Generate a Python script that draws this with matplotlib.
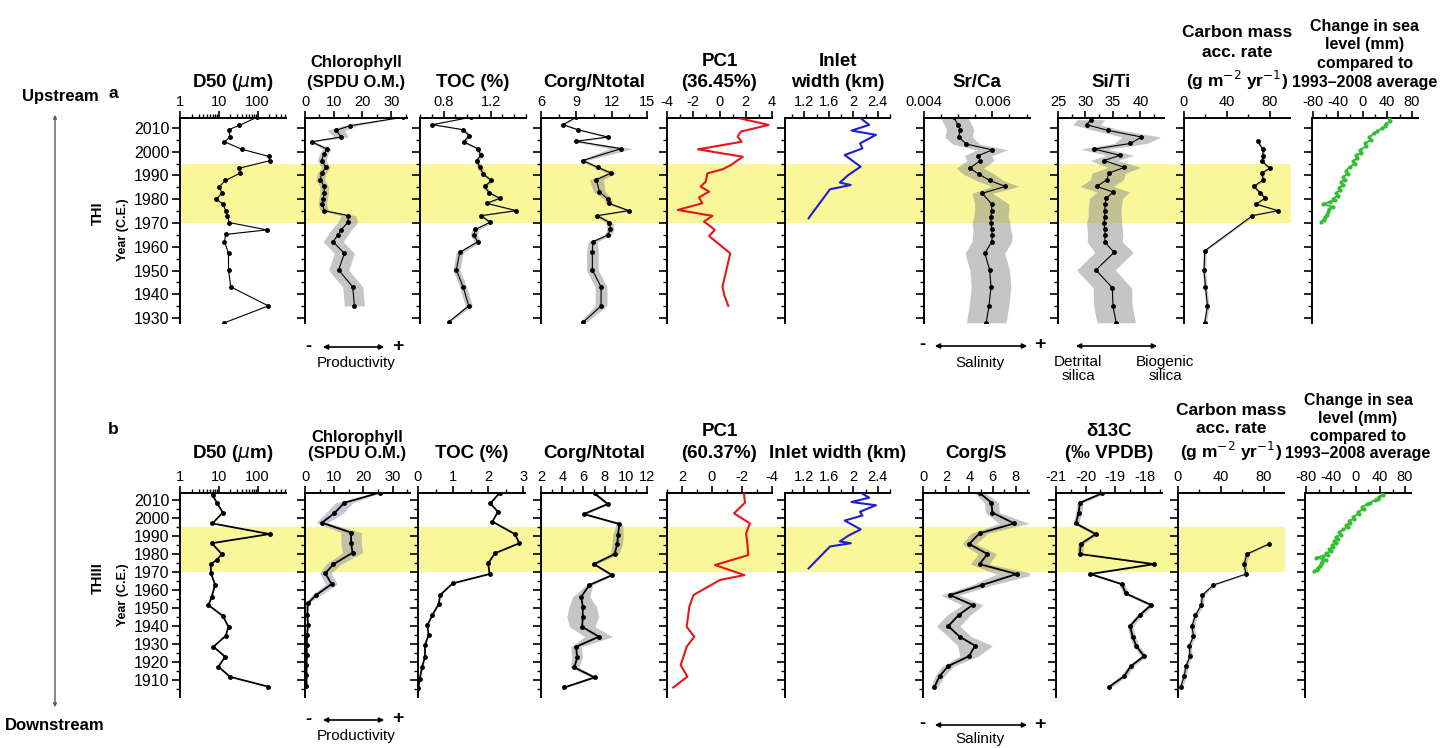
import matplotlib
matplotlib.use('Agg')
import matplotlib.pyplot as plt
import numpy as np
from matplotlib import transforms
from matplotlib.patches import Rectangle, FancyArrowPatch
from matplotlib.ticker import MultipleLocator, FixedLocator, FixedFormatter, NullFormatter, LogLocator

plt.rcParams['font.family'] = ['Liberation Sans', 'DejaVu Sans']
plt.rcParams['axes.unicode_minus'] = False

W, H = 1443, 748

# ---------------- core THI (row a) ----------------
d50_yr_a = [2014.5, 2011.1, 2009.3, 2006.2, 2004.2, 2001.1, 1998.0, 1996.2, 1993.1, 1991.0, 1987.9, 1985.1, 1982.8,
            1980.0, 1978.0, 1975.2, 1973.0, 1970.2, 1967.1, 1965.2, 1962.1, 1957.2, 1950.2, 1943.1, 1935.1, 1928.0]
d50_a = [95, 34, 18, 19.6, 14, 38.5, 196, 204, 34, 35.5, 14.8, 10, 12.2,
         8.7, 12.7, 15.1, 16.7, 18.5, 174, 15.1, 14, 17.8, 17.8, 20.4, 189, 14]

chl_yr_a = [2014.5, 2011.0, 2009.0, 2006.2, 2004.2, 2001.1, 1999.0, 1996.3, 1993.4, 1991.0, 1988.2, 1985.4, 1982.8,
            1980.0, 1978.0, 1975.2, 1973.1, 1970.3, 1967.1, 1964.9, 1962.1, 1957.2, 1950.2, 1943.1, 1935.1]
chl_a = [34, 15.8, 10.8, 12.6, 2.3, 7.7, 6.5, 5.8, 7.3, 5.8, 5.3, 6.7, 6.7,
         6.3, 6.0, 6.7, 15.1, 14.9, 12.6, 11.4, 9.8, 13.7, 11.7, 16.6, 17.2]
chl_err_a = [0, 2.5, 3, 2.5, 1, 1.5, 1.5, 1.5, 1.5, 1.5, 1.5, 1.5, 1.5,
             1.5, 1.5, 1.5, 2.5, 3.5, 3.5, 3.5, 3.5, 3.5, 3.5, 3.5, 3.5]

toc_yr_a = [2014.5, 2011.4, 2009.3, 2006.8, 2004.2, 2001.3, 1998.5, 1996.3, 1993.4, 1990.6, 1987.9, 1985.4, 1982.8,
            1980.4, 1978.3, 1975.2, 1973.1, 1970.3, 1967.3, 1964.9, 1962.1, 1957.6, 1950.2, 1943.1, 1935.1, 1928.3]
toc_a = [1.03, 0.706, 0.963, 1.02, 0.97, 1.09, 1.117, 1.08, 1.109, 1.137, 1.206, 1.149, 1.186,
         1.277, 1.166, 1.417, 1.12, 1.194, 1.071, 1.057, 1.09, 0.937, 0.909, 0.966, 1.014, 0.843]
toc_err_a = [0, .01, .02, .02, .02, .02, .02, .02, .02, .02, .02, .02, .02,
             .02, .02, .02, .02, .02, .03, .03, .03, .03, .03, .03, .03, .01]

cn_yr_a = [2014.5, 2011.4, 2009.3, 2006.2, 2004.4, 2001.3, 1996.3, 1993.4, 1991.0, 1988.2, 1983.2, 1980.0,
           1978.3, 1975.2, 1973.1, 1970.2, 1967.5, 1964.9, 1962.1, 1957.6, 1950.2, 1943.1, 1935.1, 1928.3]
cn_a = [9.0, 7.87, 9.12, 11.67, 8.97, 12.8, 9.54, 10.84, 11.95, 10.7, 10.96, 11.67,
        11.75, 13.45, 10.76, 11.8, 11.9, 11.67, 10.4, 10.36, 10.36, 11.1, 11.1, 9.6]
cn_err_a = [0, .2, .2, .3, .3, 1.0, .3, .3, .4, .6, .5, .3,
            .3, .3, .3, .3, .3, .3, .4, .5, .5, .5, .5, .3]

pc1_yr_a = [2014.1, 2011.3, 2008.5, 2006.4, 2004.2, 2001.0, 1997.9, 1994.4, 1992.6, 1990.9, 1987.4, 1985.3, 1983.2,
            1980.8, 1978.3, 1975.5, 1973.0, 1970.6, 1968.5, 1967.1, 1964.5, 1957.2, 1943.2, 1939.7, 1935.1]
pc1_a = [1.51, 3.74, 1.64, 1.38, 1.69, -1.64, 1.77, 0.87, 0.23, -0.92, -1.05, -1.44, -0.79,
         -1.56, -1.31, -3.18, -0.54, -1.18, -0.67, -0.36, -0.79, 0.82, 0.23, 0.36, 0.67]

inlet_yr = [2014.1, 2011.3, 2008.9, 2007.1, 2003.5, 2001.4, 1998.6, 1993.7, 1990.2, 1987.0, 1986.0, 1984.2, 1972.0]
inlet_km = [2.12, 2.26, 1.97, 2.37, 2.11, 2.15, 1.86, 2.12, 1.92, 1.78, 1.96, 1.62, 1.27]

srca_yr_a = [2014.5, 2011.4, 2009.3, 2006.2, 2003.2, 2000.8, 1998.3, 1996.3, 1993.1, 1990.6, 1987.9, 1985.4, 1982.5,
             1978.0, 1975.2, 1972.7, 1970.2, 1967.3, 1964.9, 1962.1, 1957.2, 1950.2, 1943.1, 1935.1, 1928.0]
srca_a = [0.00487, 0.00499, 0.00506, 0.00501, 0.00524, 0.0060, 0.00558, 0.00565, 0.00534, 0.0056, 0.00592, 0.00638,
          0.0057, 0.00598, 0.00598, 0.00596, 0.00596, 0.00598, 0.006, 0.00598, 0.00578, 0.00592, 0.00596, 0.0059, 0.00582]
srca_err_a = [0.0004, 0.0004, 0.0004, 0.0004, 0.0004, 0.00045, 0.0004, 0.0004, 0.0004, 0.00045, 0.0004, 0.0004,
              0.0003, 0.0005, 0.0005, 0.0005, 0.00055, 0.00055, 0.00058, 0.00058, 0.00058, 0.00058, 0.00058,
              0.00058, 0.00058]

siti_yr_a = [2013.5, 2011.4, 2009.0, 2006.2, 2003.5, 2001.1, 1998.5, 1996.3, 1993.4, 1991.0, 1988.2, 1985.4, 1983.0,
             1980.4, 1978.0, 1975.2, 1972.7, 1970.2, 1967.3, 1964.9, 1962.1, 1957.6, 1950.2, 1942.7, 1935.1, 1928.0]
siti_a = [31.0, 30.2, 34.06, 40.2, 38.2, 31.6, 36.3, 33.4, 37.1, 34.25, 33.9, 32.06, 35.06,
          33.75, 33.6, 33.5, 33.5, 33.4, 33.5, 33.6, 33.5, 35.2, 31.9, 34.9, 35.0, 35.6]
siti_err_a = [2.5, 2.5, 2.5, 3.5, 3.0, 2.5, 2.5, 2.5, 3.0, 3.0, 3.0, 3.0, 3.0,
              3.0, 3.0, 3.0, 3.0, 3.2, 3.2, 3.2, 3.2, 3.5, 3.5, 3.5, 3.5, 3.5]

cmar_yr_a = [2004.4, 2001.1, 1998.0, 1996.0, 1993.1, 1991.0, 1988.2, 1985.4, 1982.8, 1980.4, 1978.0, 1975.2,
             1973.1, 1958.3, 1950.2, 1943.1, 1935.1, 1928.0]
cmar_a = [68.7, 73.5, 74.2, 73, 80, 72.6, 74.2, 65.2, 71, 75.8, 67.1, 87.7, 63.9, 19.4, 18.7, 20, 21.9, 19.4]
cmar_err_a = [1.5] * 18

sl_yr = [2014.1, 2013.0, 2011.7, 2010.8, 2009.9, 2008.6, 2007.7, 2006.1, 2005.0, 2003.5, 2002.3, 2000.7, 1999.5,
         1998.6, 1997.3, 1996.2, 1994.9, 1993.7, 1992.0, 1990.8, 1989.4, 1988.3, 1987.3, 1986.0, 1984.9, 1983.8,
         1982.7, 1981.5, 1980.3, 1979.5, 1978.9, 1978.0, 1976.8, 1975.8, 1974.7, 1973.5, 1972.5, 1971.4, 1970.4]
sl_mm = [42.7, 45, 37.3, 36, 32, 24, 18.7, 10.7, 13, 4.3, 6, -4.3, -2,
         -10.7, -9, -15, -13, -20.3, -26.7, -24, -32, -29, -34.7, -31, -38.4, -36,
         -42.7, -40, -48, -45, -53.3, -64, -48, -55, -56, -58, -61.3, -63, -66.7]

# ---------------- core THIII (row b) ----------------
d50_yr_b = [2012.8, 2008.5, 2003.0, 1997.0, 1991.1, 1986.0, 1980.0, 1976.7, 1974.4, 1969.3, 1963.0, 1956.3, 1951.7,
            1945.6, 1939.6, 1934.6, 1928.5, 1923.0, 1917.4, 1911.8, 1906.3]
d50_b = [6.9, 8.9, 12.7, 6.85, 204, 6.6, 11.9, 8.9, 6.2, 6.3, 8.0, 6.6, 5.4, 12.7, 17.8, 15.1, 7.3, 14.5, 9.8, 19.6, 191]

chl_yr_b = [2014.1, 2008.5, 2002.6, 1997.4, 1991.9, 1986.3, 1980.7, 1974.3, 1969.3, 1963.3, 1957.2, 1952.6,
            1946.0, 1940.5, 1935.0, 1929.4, 1923.8, 1918.2, 1912.6, 1906.5]
chl_b = [25.6, 13.5, 10.0, 5.8, 15.8, 15.8, 16.3, 9.7, 7.0, 9.1, 3.8, 0.9, 0.8, 1.0, 0.7, 0.6, 0.6, 0.5, 0.5, 0.5]
chl_err_b = [0, 3, 3, 2, 3.5, 3.5, 3.5, 2.5, 2, 2, 1.5, 0.3, 0.2, 0.2, 0.2, 0.2, 0.2, 0.2, 0.2, 0.2]

toc_yr_b = [2014.0, 2008.1, 2003.5, 1998.0, 1991.1, 1986.0, 1980.4, 1974.8, 1968.9, 1963.7, 1957.2, 1952.2, 1946.1,
            1940.5, 1935.0, 1929.4, 1923.0, 1917.4, 1910.6, 1905.4]
toc_b = [2.33, 2.06, 2.28, 2.12, 2.76, 2.89, 2.19, 2.0, 2.04, 0.99, 0.63, 0.59, 0.41,
         0.27, 0.3, 0.2, 0.2, 0.12, 0.05, 0.01]

cn_yr_b = [2013.7, 2007.8, 2002.2, 1996.7, 1990.6, 1985.6, 1980.0, 1974.4, 1968.3, 1962.8, 1956.3, 1950.7, 1945.2,
           1939.6, 1934.1, 1928.5, 1922.6, 1917.0, 1911.5, 1905.9]
cn_b = [7.05, 8.3, 6.04, 9.4, 9.26, 9.2, 8.94, 7.0, 8.7, 6.57, 5.8, 5.94, 5.94, 5.88, 7.46, 5.31, 5.41, 5.15, 7.05, 4.2]
cn_err_b = [0.2, 0.2, 0.2, 0.3, 0.5, 0.5, 0.4, 0.2, 0.2, 0.3, 0.8, 1.3, 1.5, 1.2, 1.3, 0.5, 0.5, 0.4, 0.3, 0.2]

pc1_yr_b = [2013.7, 2008.5, 2002.6, 1997.0, 1991.5, 1985.9, 1979.4, 1973.9, 1968.3, 1965.6, 1957.2, 1950.7,
            1939.6, 1934.1, 1928.5, 1918.3, 1911.9, 1905.9]
pc1_b = [-2.13, -2.2, -1.47, -2.53, -2.27, -2.36, -2.42, -0.2, -2.16, -0.53, 1.24, 1.51,
         1.69, 1.18, 1.69, 2.09, 1.64, 2.58]

cs_yr_b = [2014.0, 2008.5, 2003.0, 1997.0, 1991.5, 1985.6, 1980.0, 1974.4, 1968.9, 1962.8, 1957.2, 1951.7, 1946.1,
           1940.0, 1934.1, 1929.1, 1923.3, 1917.8, 1912.2, 1906.3]
cs_b = [4.87, 5.9, 5.97, 7.85, 4.87, 3.97, 5.55, 4.87, 8.06, 5.1, 2.33, 4.27, 3.07, 2.18, 3.16, 4.48, 3.97, 2.18,
        1.43, 0.99]
cs_err_b = [0.5, 0.6, 0.6, 1.3, 0.7, 0.6, 0.8, 0.8, 1.7, 0.9, 0.8, 0.9, 1.0, 1.0, 1.0, 1.5, 0.8, 0.5, 0.4, 0.3]

d13c_yr_b = [2013.7, 2008.5, 2002.6, 1997.0, 1991.1, 1985.6, 1980.0, 1974.4, 1968.9, 1963.3, 1958.1, 1951.7, 1946.1,
             1940.0, 1934.1, 1929.0, 1923.3, 1917.8, 1912.2, 1906.3]
d13c_b = [-19.45, -20.19, -20.24, -20.33, -19.66, -20.17, -20.19, -17.69, -19.84, -18.78, -18.64, -17.79, -18.17,
          -18.5, -18.41, -18.29, -18.03, -18.47, -18.7, -19.2]
d13c_err_b = [0.1] * 20

cmar_yr_b = [1985.6, 1980.0, 1974.4, 1968.9, 1962.8, 1957.2, 1951.7, 1946.1, 1940.0, 1934.4, 1928.9, 1923.3,
             1917.8, 1912.2, 1906.3]
cmar_b = [84.8, 64.3, 61.8, 63.4, 33, 22.7, 21.8, 16.3, 13.1, 14.4, 10.6, 11.2, 7.4, 5.8, 2.6]
cmar_err_b = [2.0] * 15

# rows: top px, bottom px, ylim, major year ticks, title pad
rows = {'a': (118, 323, (1927.9, 2014.2), np.arange(1930, 2011, 10), 6),
        'b': (493, 697, (1900.6, 2013.9), np.arange(1910, 2011, 10), 8.5)}

fig = plt.figure(figsize=(W / 100, H / 100), dpi=100)


def panel(x0, x1, row, title, tsize, xlim, majors, labels, minor, log=False, first=False, ls=1.3):
    y0, y1, ylim, ymaj, tpad = rows[row]
    ax = fig.add_axes([x0 / W, 1 - y1 / H, (x1 - x0) / W, (y1 - y0) / H])
    ax.set_facecolor('none')
    for s in ['right', 'bottom']:
        ax.spines[s].set_visible(False)
    for s in ['left', 'top']:
        ax.spines[s].set_linewidth(1.4)
    ax.xaxis.set_ticks_position('top')
    if log:
        ax.set_xscale('log')
        ax.xaxis.set_minor_locator(LogLocator(base=10, subs=np.arange(2, 10)))
    else:
        ax.xaxis.set_minor_locator(MultipleLocator(minor))
    ax.set_xlim(*xlim)
    ax.xaxis.set_major_locator(FixedLocator(majors))
    ax.xaxis.set_major_formatter(FixedFormatter(labels))
    ax.xaxis.set_minor_formatter(NullFormatter())
    ax.set_ylim(*ylim)
    ax.yaxis.set_major_locator(FixedLocator(ymaj))
    ax.yaxis.set_minor_locator(MultipleLocator(5))
    ax.tick_params(which='major', direction='out', length=5, width=1.2, labelsize=10.5, pad=1.5)
    ax.tick_params(axis='y', which='major', length=6, labelsize=11.5)
    ax.tick_params(which='minor', direction='out', length=3, width=1.0)
    if not first:
        ax.tick_params(labelleft=False)
    ax.set_title(title, fontsize=tsize, fontweight='bold', pad=tpad, linespacing=ls)
    return ax


def series(ax, yrs, vals, err=None, color='k', lw=0.8, marker='o', ms=2.5, shade='0.55'):
    yrs = np.array(yrs)
    vals = np.array(vals)
    if err is not None:
        e = np.array(err)
        ax.fill_betweenx(yrs, vals - e, vals + e, color=shade, alpha=0.5, lw=0, zorder=1)
    ax.plot(vals, yrs, color=color, lw=lw, marker=marker, ms=ms, mfc=color, mec=color, zorder=3)


TS = 13.5
CM = 'Carbon mass\nacc. rate\n(g m$^{-2}$ yr$^{-1}$)'
SL = 'Change in sea\nlevel (mm)\ncompared to\n1993\u20132008 average'

# ---------------- row a ----------------
ax = panel(180, 286, 'a', 'D50 ($\\mu$m)', TS, (1, 540), [1, 10, 100], ['1', '10', '100'], None, log=True, first=True)
series(ax, d50_yr_a, d50_a)
ax_a0 = ax
ax = panel(305, 407, 'a', 'Chlorophyll\n(SPDU O.M.)', 12, (0, 35.5), [0, 10, 20, 30], ['0', '10', '20', '30'], 5,
           ls=1.35)
series(ax, chl_yr_a, chl_a, chl_err_a)
ax = panel(420, 526, 'a', 'TOC (%)', TS, (0.6, 1.5), [0.8, 1.2], ['0.8', '1.2'], 0.1)
series(ax, toc_yr_a, toc_a, toc_err_a)
ax = panel(541, 647, 'a', 'Corg/Ntotal', TS, (6, 15), [6, 9, 12, 15], ['6', '9', '12', '15'], 1.5)
series(ax, cn_yr_a, cn_a, cn_err_a)
ax = panel(667, 772, 'a', 'PC1\n(36.45%)', TS, (-4, 4), [-4, -2, 0, 2, 4], ['-4', '-2', '0', '2', '4'], 1)
series(ax, pc1_yr_a, pc1_a, color='#e8161b', lw=1.5, marker=None)
ax = panel(785, 890, 'a', 'Inlet\nwidth (km)', TS, (0.885, 2.6), [1.2, 1.6, 2.0, 2.4], ['1.2', '1.6', '2', '2.4'], 0.2)
series(ax, inlet_yr, inlet_km, color='#1f1fd0', lw=1.5, marker=None)
ax = panel(924, 1030, 'a', 'Sr/Ca', TS, (0.004, 0.0071), [0.004, 0.006], ['0.004', '0.006'], 0.0005)
series(ax, srca_yr_a, srca_a, srca_err_a)
ax = panel(1058, 1164, 'a', 'Si/Ti', TS, (25, 44.3), [25, 30, 35, 40], ['25', '30', '35', '40'], 2.5)
series(ax, siti_yr_a, siti_a, siti_err_a)
ax = panel(1184, 1290, 'a', CM, 12.5, (0, 99), [0, 40, 80], ['0', '40', '80'], 20, ls=1.45)
series(ax, cmar_yr_a, cmar_a, cmar_err_a)
ax = panel(1312, 1418, 'a', SL, 11.5, (-82, 90), [-80, -40, 0, 40, 80], ['-80', '-40', '0', '40', '80'], 20,
           ls=1.3)
series(ax, sl_yr, sl_mm, color='#2fbf2f', lw=1.4, ms=2)

# ---------------- row b ----------------
ax = panel(180, 286, 'b', 'D50 ($\\mu$m)', TS, (1, 540), [1, 10, 100], ['1', '10', '100'], None, log=True, first=True)
series(ax, d50_yr_b, d50_b, lw=1.3)
ax_b0 = ax
ax = panel(305, 410, 'b', 'Chlorophyll\n(SPDU O.M.)', 12, (0, 36), [0, 10, 20, 30], ['0', '10', '20', '30'], 5,
           ls=1.1)
series(ax, chl_yr_b, chl_b, chl_err_b, lw=1.3, shade='#8f8ca8')
ax = panel(418, 525, 'b', 'TOC (%)', TS, (0, 3.05), [0, 1, 2, 3], ['0', '1', '2', '3'], 0.5)
series(ax, toc_yr_b, toc_b, lw=1.3)
ax = panel(541, 647, 'b', 'Corg/Ntotal', TS, (2, 12), [2, 4, 6, 8, 10, 12], ['2', '4', '6', '8', '10', '12'], 1)
series(ax, cn_yr_b, cn_b, cn_err_b, lw=1.3)
ax = panel(667, 772, 'b', 'PC1\n(60.37%)', TS, (3, -4), [2, 0, -2, -4], ['2', '0', '-2', '-4'], 1, ls=1.4)
series(ax, pc1_yr_b, pc1_b, color='#e8161b', lw=1.5, marker=None)
ax = panel(785, 890, 'b', 'Inlet width (km)', TS, (0.885, 2.6), [1.2, 1.6, 2.0, 2.4], ['1.2', '1.6', '2', '2.4'], 0.2)
series(ax, inlet_yr, inlet_km, color='#1f1fd0', lw=1.5, marker=None)
ax = panel(923, 1029, 'b', 'Corg/S', TS, (0, 9.13), [0, 2, 4, 6, 8], ['0', '2', '4', '6', '8'], 1)
series(ax, cs_yr_b, cs_b, cs_err_b, lw=1.3)
ax = panel(1056, 1162, 'b', '\u03b413C\n(\u2030 VPDB)', TS, (-21, -17.42), [-21, -20, -19, -18],
           ['-21', '-20', '-19', '-18'], 0.5, ls=1.4)
series(ax, d13c_yr_b, d13c_b, d13c_err_b, lw=1.3)
ax = panel(1178, 1284, 'b', CM, 12.5, (0, 99), [0, 40, 80], ['0', '40', '80'], 20, ls=1.25)
series(ax, cmar_yr_b, cmar_b, cmar_err_b)
ax = panel(1305, 1411, 'b', SL, 11.5, (-82, 90), [-80, -40, 0, 40, 80], ['-80', '-40', '0', '40', '80'], 20,
           ls=1.22)
series(ax, sl_yr, sl_mm, color='#2fbf2f', lw=1.4, ms=2)

# yellow band 1970-1995 across the panels
for a0, xr in [(ax_a0, 1291), (ax_b0, 1285)]:
    tr = transforms.blended_transform_factory(fig.transFigure, a0.transData)
    fig.add_artist(Rectangle((180 / W, 1970), (xr - 180) / W, 25, transform=tr,
                             facecolor='#f9f79a', edgecolor='none', zorder=-1))


def ftext(x, y, s, **kw):
    fig.text(x / W, 1 - y / H, s, ha='center', va='center', **kw)


def farrow(x1, y1, x2, y2, color='k', lw=1.2, ms=7):
    fig.add_artist(FancyArrowPatch((x1 / W, 1 - y1 / H), (x2 / W, 1 - y2 / H), transform=fig.transFigure,
                                   arrowstyle='<|-|>', mutation_scale=ms, color=color, lw=lw))


ftext(60, 97, 'Upstream', fontsize=12, fontweight='bold')
ftext(55, 725, 'Downstream', fontsize=12, fontweight='bold')
farrow(55, 112, 55, 710, color='0.35', lw=1.0, ms=5)
ftext(113, 94, 'a', fontsize=12.5, fontweight='bold')
ftext(113, 430, 'b', fontsize=12.5, fontweight='bold')
ftext(98, 213, 'THI', fontsize=10.5, fontweight='bold', rotation=90)
ftext(123, 230, 'Year (C.E.)', fontsize=9, fontweight='bold', rotation=90)
ftext(98, 578, 'THIII', fontsize=10.5, fontweight='bold', rotation=90)
ftext(123, 595, 'Year (C.E.)', fontsize=9, fontweight='bold', rotation=90)

# proxy interpretation arrows
for yy in [347, 720]:
    ftext(308, yy - 1, '-', fontsize=13, fontweight='bold')
    farrow(320, yy, 387, yy)
    ftext(398, yy - 1, '+', fontsize=14, fontweight='bold')
    ftext(356, yy + 16, 'Productivity', fontsize=11)

for yy, dy in [(346, 17), (725, 14)]:
    ftext(922, yy - 1, '-', fontsize=13, fontweight='bold')
    farrow(932, yy, 1030, yy)
    ftext(1040, yy - 1, '+', fontsize=14, fontweight='bold')
    ftext(980, yy + dy, 'Salinity', fontsize=11)

farrow(1073, 346, 1160, 346)
ftext(1078, 369, 'Detrital\nsilica', fontsize=11, linespacing=1.05)
ftext(1165, 369, 'Biogenic\nsilica', fontsize=11, linespacing=1.05)

plt.savefig('out.png', dpi=100)
